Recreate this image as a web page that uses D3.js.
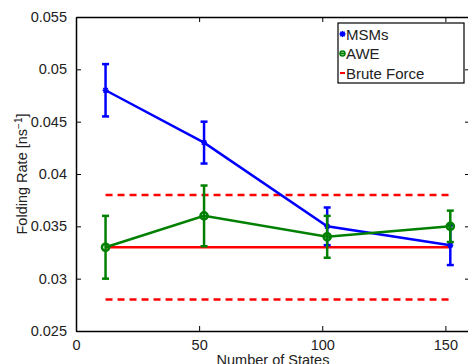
<!DOCTYPE html>
<html lang="en">
<head>
  <meta charset="UTF-8">
  <script src="https://cdn.jsdelivr.net/npm/d3@7"></script>
  <title>Folding Rate</title>
  <style>
    body { margin: 0; background: #fff; }
    svg { display: block; font-family: "Liberation Sans", Arial, sans-serif; }
  </style>
</head>
<body>
  <script>
      // data
      var states = [12, 52, 102, 152];
      var msmRate = [0.048, 0.043, 0.035, 0.0332];
      var msmErr = [0.0025, 0.002, 0.0018, 0.0019];
      var aweRate = [0.033, 0.036, 0.034, 0.035];
      var aweErr = [0.003, 0.0029, 0.002, 0.0015];
      var bruteRate = 0.033, bruteLow = 0.028, bruteHigh = 0.038;
      var xTicks = [0, 50, 100, 150];
      var yTicks = [0.025, 0.03, 0.035, 0.04, 0.045, 0.05, 0.055];

      var width = 468, height = 364;
      var plotLeft = 76, plotTop = 17, plotRight = 470, plotBottom = 331;

      var svg = d3.select("body").append("svg")
        .attr("width", width)
        .attr("height", height);

      var x = d3.scaleLinear().domain([0, 160]).range([plotLeft, plotRight]);
      var y = d3.scaleLinear().domain([0.025, 0.055]).range([plotBottom, plotTop]);

      //axes box with inward ticks on all four sides
      svg.append("g").attr("transform", "translate(0," + plotBottom + ")")
        .call(d3.axisBottom(x).tickValues(xTicks).tickSizeInner(-5).tickSizeOuter(0).tickPadding(9).tickFormat(d3.format("d")));
      svg.append("g").attr("transform", "translate(0," + plotTop + ")")
        .call(d3.axisTop(x).tickValues(xTicks).tickSizeInner(-5).tickSizeOuter(0).tickFormat(""));
      svg.append("g").attr("transform", "translate(" + plotLeft + ",0)")
        .call(d3.axisLeft(y).tickValues(yTicks).tickSizeInner(-5).tickSizeOuter(0).tickPadding(9).tickFormat(function(d){ return String(+d.toFixed(3)); }));
      svg.append("g").attr("transform", "translate(" + plotRight + ",0)")
        .call(d3.axisRight(y).tickValues(yTicks).tickSizeInner(-5).tickSizeOuter(0).tickFormat(""));

      svg.selectAll(".domain").attr("stroke", "#000").attr("stroke-width", 1.5);
      svg.selectAll(".tick line").attr("stroke", "#000");
      svg.selectAll(".tick text").attr("font-size", 14.5).attr("fill", "#222").style("font-family", "Liberation Sans, Arial, sans-serif");

      //brute force reference lines
      svg.append("line")
        .attr("x1", x(states[0])).attr("x2", x(states[3]))
        .attr("y1", y(bruteRate)).attr("y2", y(bruteRate))
        .attr("stroke", "#ff0000").attr("stroke-width", 2.5);
      [bruteLow, bruteHigh].forEach(function(v){
        svg.append("line")
          .attr("x1", x(states[0])).attr("x2", x(states[3]))
          .attr("y1", y(v)).attr("y2", y(v))
          .attr("stroke", "#ff0000").attr("stroke-width", 2.5)
          .attr("stroke-dasharray", "7,5");
      });

      //one series: line, error bars, markers
      function series(vals, errs, color, marker) {
        var pts = states.map(function(s, i){ return {x: s, v: vals[i], e: errs[i]}; });
        var g = svg.append("g");
        g.append("path")
          .attr("d", d3.line().x(function(d){ return x(d.x); }).y(function(d){ return y(d.v); })(pts))
          .attr("fill", "none").attr("stroke", color).attr("stroke-width", 2.5);
        var eb = g.selectAll(".eb").data(pts).enter().append("g");
        eb.append("line")
          .attr("x1", function(d){ return x(d.x); }).attr("x2", function(d){ return x(d.x); })
          .attr("y1", function(d){ return y(d.v - d.e); }).attr("y2", function(d){ return y(d.v + d.e); })
          .attr("stroke", color).attr("stroke-width", 2.5);
        [-1, 1].forEach(function(s){
          eb.append("line")
            .attr("x1", function(d){ return x(d.x) - 3.5; }).attr("x2", function(d){ return x(d.x) + 3.5; })
            .attr("y1", function(d){ return y(d.v + s * d.e); }).attr("y2", function(d){ return y(d.v + s * d.e); })
            .attr("stroke", color).attr("stroke-width", 2.5);
        });
        eb.each(function(d){ marker(d3.select(this), x(d.x), y(d.v)); });
      }

      function star(sel, cx, cy) {
        sel.append("path")
          .attr("d", "M" + (cx - 3) + "," + cy + "h6M" + cx + "," + (cy - 3) + "v6M" + (cx - 2.2) + "," + (cy - 2.2) + "l4.4,4.4M" + (cx - 2.2) + "," + (cy + 2.2) + "l4.4,-4.4")
          .attr("stroke", "#0000ff").attr("stroke-width", 1.5);
      }
      function ring(sel, cx, cy) {
        sel.append("circle").attr("cx", cx).attr("cy", cy).attr("r", 3.6)
          .attr("fill", "none").attr("stroke", "#008000").attr("stroke-width", 2.5);
      }

      series(msmRate, msmErr, "#0000ff", star);
      series(aweRate, aweErr, "#008000", ring);

      //legend
      var lg = svg.append("g").attr("transform", "translate(338,23)");
      lg.append("rect").attr("width", 126).attr("height", 60)
        .attr("fill", "#fff").attr("stroke", "#000").attr("stroke-width", 1.2);
      var names = ["MSMs", "AWE", "Brute Force"];
      var colors = ["#0000ff", "#008000", "#ff0000"];
      names.forEach(function(n, i){
        var yy = 11 + i * 19.5;
        lg.append("line").attr("x1", 2).attr("x2", 7).attr("y1", yy).attr("y2", yy)
          .attr("stroke", colors[i]).attr("stroke-width", 2);
        if (i == 0) star(lg, 4.5, yy);
        if (i == 1) lg.append("circle").attr("cx", 4.5).attr("cy", yy).attr("r", 2.5)
          .attr("fill", "none").attr("stroke", "#008000").attr("stroke-width", 1.5);
        lg.append("text").attr("x", 8).attr("y", yy + 5.5).attr("font-size", 15).attr("fill", "#222").text(n);
      });

      //axis labels
      svg.append("text").attr("x", (plotLeft + plotRight) / 2).attr("y", 365)
        .attr("text-anchor", "middle").attr("font-size", 14.5).attr("fill", "#222")
        .text("Number of States");
      var yl = svg.append("text")
        .attr("transform", "translate(27," + ((plotTop + plotBottom) / 2) + ") rotate(-90)")
        .attr("text-anchor", "middle").attr("font-size", 14.5).attr("fill", "#222");
      yl.append("tspan").text("Folding Rate [ns");
      yl.append("tspan").attr("dy", -5).attr("font-size", 10).text("\u22121");
      yl.append("tspan").attr("dy", 5).text("]");
  </script>
</body>
</html>
